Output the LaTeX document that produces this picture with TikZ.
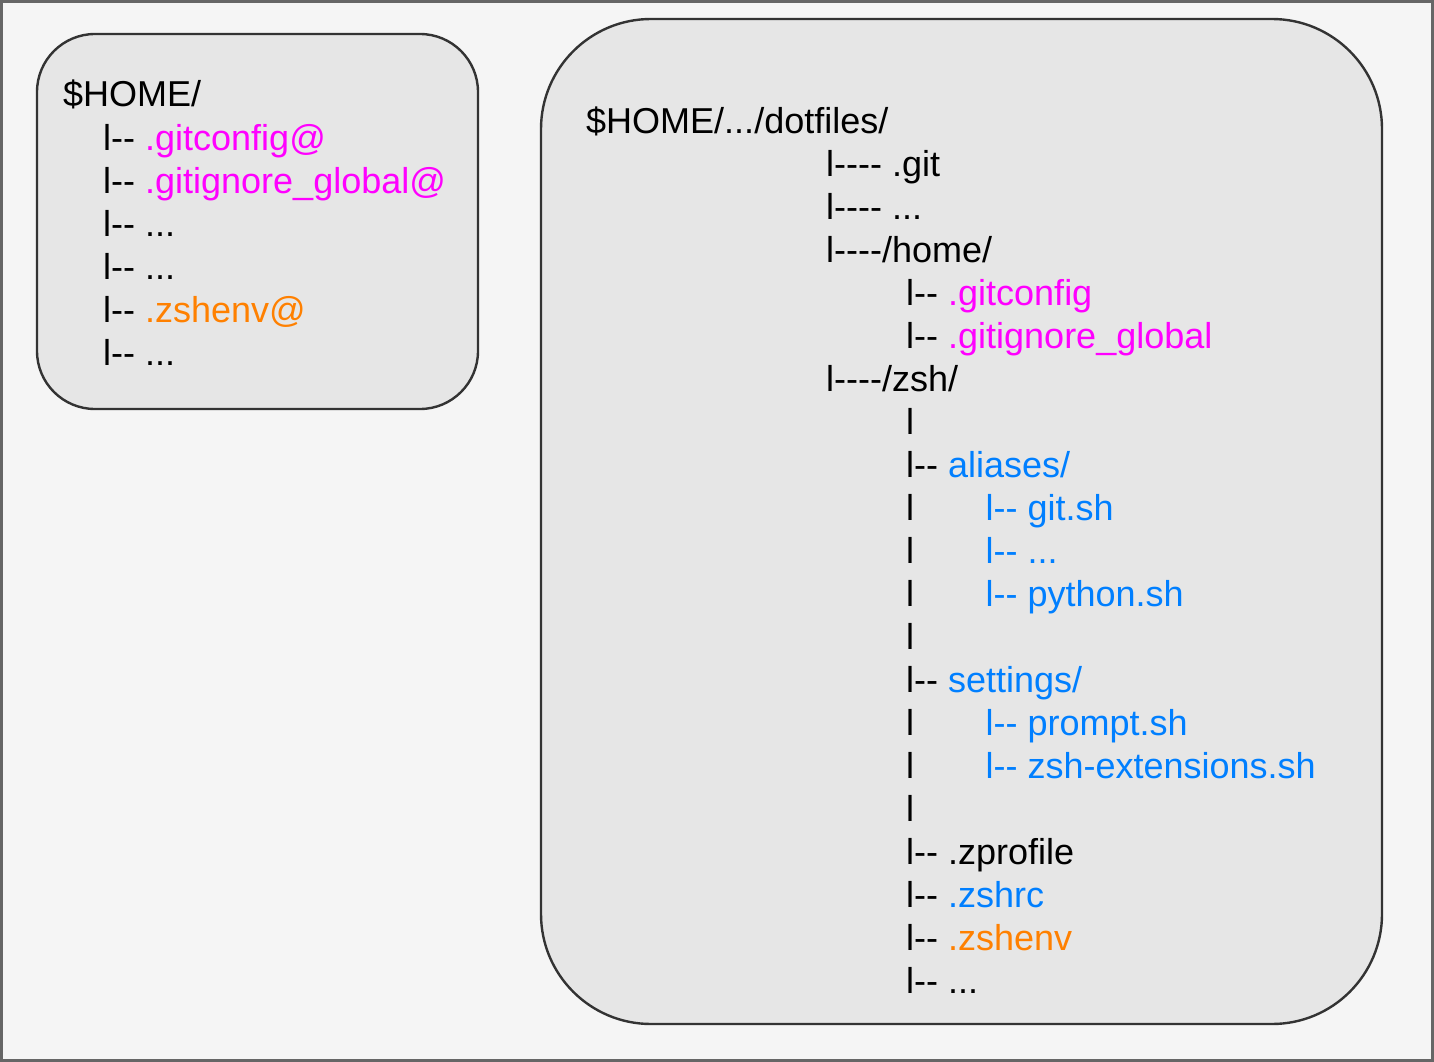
\documentclass[tikz,border=0pt]{standalone}
\usepackage{fontspec}
\setmainfont{Liberation Sans}[Ligatures=TeXOff]
\usetikzlibrary{
  positioning
}
\definecolor{framegray}{HTML}{666666}
\definecolor{pagegray}{HTML}{F5F5F5}
\definecolor{panelfill}{HTML}{E6E6E6}
\definecolor{paneledge}{HTML}{333333}
\definecolor{linkpink}{HTML}{FF00FF}
\definecolor{envorange}{HTML}{FF8000}
\definecolor{zshblue}{HTML}{007FFF}
\tikzset{
%
  % For the frame round the whole page.
  outer frame/.style={
    draw=framegray,
    fill=pagegray,
    line width=3pt},
%
  % For the two rounded panels.
  panel/.style={
    draw=paneledge,
    fill=panelfill,
    line width=2.4pt},
%
  % For one line of the file tree.
  entry/.style={
    anchor=base west,
    inner sep=0pt,
    font=\fontsize{36}{43}\selectfont},
%
  % For the deepest level, right of a bar.
  sub entry/.style={
    entry,
    zshblue}
}

\begin{document}
\begin{tikzpicture}[x=1pt, y=-1pt]
  \useasboundingbox (0,0) rectangle (1434,1062);
  \draw[outer frame] (1.5,1.5) rectangle (1432.5,1060.5);
  \draw[panel, rounded corners=58pt] (37,34) rectangle (478,409);
  \draw[panel, rounded corners=110pt] (541,19) rectangle (1382,1024);

  % the home folder with its links
  \node[entry] (home) at (63,107) {\$HOME/};
  \node[entry] (gitconfig link) at (103,150)
    {l-- \textcolor{linkpink}{.gitconfig@}};
  \node[entry] (gitignore link) at (103,193)
    {l-- \textcolor{linkpink}{.gitignore\_global@}};
  \node[entry] (home misc a) at (103,236) {l-- ...};
  \node[entry] (home misc b) at (103,279) {l-- ...};
  \node[entry] (zshenv link) at (103,322)
    {l-- \textcolor{envorange}{.zshenv@}};
  \node[entry] (home misc c) at (103,365) {l-- ...};

  % the dotfiles repository
  \node[entry] (dotfiles) at (586,133) {\$HOME/.../dotfiles/};
  \node[entry] (git dir) at (826,176) {l---- .git};
  \node[entry] (repo misc) at (826,219) {l---- ...};
  \node[entry] (home dir) at (826,262) {l----/home/};
  \node[entry] (gitconfig) at (906,305)
    {l-- \textcolor{linkpink}{.gitconfig}};
  \node[entry] (gitignore) at (906,348)
    {l-- \textcolor{linkpink}{.gitignore\_global}};
  \node[entry] (zsh dir) at (826,391) {l----/zsh/};
  \node[entry] (bar a) at (906,434) {l};
  \node[entry] (aliases) at (906,477)
    {l-- \textcolor{zshblue}{aliases/}};
  \node[entry] (bar b) at (906,520) {l};
  \node[sub entry, right=71pt of bar b.base east,
        anchor=base west] (git sh) {l-- git.sh};
  \node[entry] (bar c) at (906,563) {l};
  \node[sub entry, right=71pt of bar c.base east,
        anchor=base west] (alias misc) {l-- ...};
  \node[entry] (bar d) at (906,606) {l};
  \node[sub entry, right=71pt of bar d.base east,
        anchor=base west] (python sh) {l-- python.sh};
  \node[entry] (bar e) at (906,649) {l};
  \node[entry] (settings) at (906,692)
    {l-- \textcolor{zshblue}{settings/}};
  \node[entry] (bar f) at (906,735) {l};
  \node[sub entry, right=71pt of bar f.base east,
        anchor=base west] (prompt sh) {l-- prompt.sh};
  \node[entry] (bar g) at (906,778) {l};
  \node[sub entry, right=71pt of bar g.base east,
        anchor=base west] (ext sh) {l-- zsh-extensions.sh};
  \node[entry] (bar h) at (906,821) {l};
  \node[entry] (zprofile) at (906,864) {l-- .zprofile};
  \node[entry] (zshrc) at (906,907)
    {l-- \textcolor{zshblue}{.zshrc}};
  \node[entry] (zshenv) at (906,950)
    {l-- \textcolor{envorange}{.zshenv}};
  \node[entry] (zsh misc) at (906,993) {l-- ...};
\end{tikzpicture}
\end{document}
